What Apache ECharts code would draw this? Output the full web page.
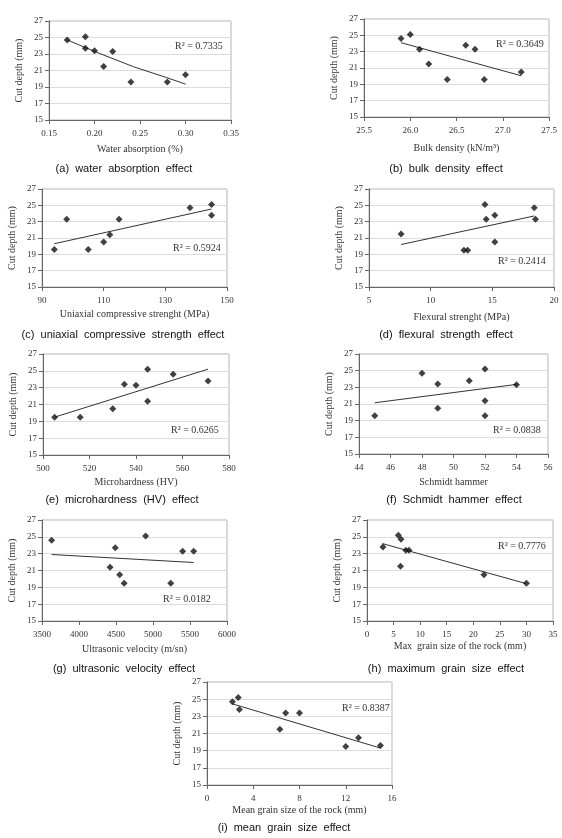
<!DOCTYPE html>
<html>
<head>
<meta charset="utf-8">
<script src="https://cdn.jsdelivr.net/npm/echarts@6/dist/echarts.min.js"></script>
<style>
  html, body { margin: 0; padding: 0; background: #fff; }
  #main { width: 562px; height: 838px; }
</style>
</head>
<body>
<div id="main"></div>
<script>
// y axis is the same for every panel
var yTicks = [15, 17, 19, 21, 23, 25, 27];

// (a) water absorption
var waterX = [0.17, 0.19, 0.19, 0.20, 0.21, 0.22, 0.24, 0.28, 0.30];
var waterY = [24.7, 25.1, 23.7, 23.4, 21.5, 23.3, 19.6, 19.6, 20.5];
var waterFit = [[0.17, 24.7], [0.206, 23.05], [0.243, 21.45], [0.279, 20.15], [0.30, 19.35]];
var waterTicks = [0.15, 0.20, 0.25, 0.30, 0.35];

// (b) bulk density
var densityX = [25.9, 26.0, 26.1, 26.2, 26.4, 26.6, 26.7, 26.8, 27.2];
var densityY = [24.6, 25.1, 23.3, 21.5, 19.6, 23.8, 23.3, 19.6, 20.5];
var densityFit = [[25.9, 24.1], [27.2, 20.05]];
var densityTicks = [25.5, 26.0, 26.5, 27.0, 27.5];

// (c) uniaxial compressive strength
var ucsX = [94, 98, 105, 110, 112, 115, 138, 145, 145];
var ucsY = [19.6, 23.3, 19.6, 20.5, 21.4, 23.3, 24.7, 25.1, 23.8];
var ucsFit = [[94, 20.3], [145, 24.55]];
var ucsTicks = [90, 110, 130, 150];

// (d) flexural strength
var flexX = [7.6, 12.7, 13.0, 14.4, 14.5, 15.2, 15.2, 18.4, 18.5];
var flexY = [21.5, 19.5, 19.5, 25.1, 23.3, 23.8, 20.5, 24.7, 23.3];
var flexFit = [[7.6, 20.2], [18.4, 23.7]];
var flexTicks = [5, 10, 15, 20];

// (e) microhardness
var hvX = [505, 516, 530, 535, 540, 545, 545, 556, 571];
var hvY = [19.5, 19.5, 20.5, 23.4, 23.3, 25.2, 21.4, 24.6, 23.8];
var hvFit = [[505, 19.5], [571, 25.2]];
var hvTicks = [500, 520, 540, 560, 580];

// (f) Schmidt hammer
var schmidtX = [45, 48, 49, 49, 51, 52, 52, 52, 54];
var schmidtY = [19.6, 24.7, 23.4, 20.5, 23.8, 25.2, 21.4, 19.6, 23.3];
var schmidtFit = [[45, 21.15], [54, 23.35]];
var schmidtTicks = [44, 46, 48, 50, 52, 54, 56];

// (g) ultrasonic velocity
var sonicX = [3630, 4420, 4490, 4550, 4610, 4900, 5240, 5400, 5550];
var sonicY = [24.6, 21.4, 23.7, 20.5, 19.5, 25.1, 19.5, 23.3, 23.3];
var sonicFit = [[3630, 22.9], [5550, 21.95]];
var sonicTicks = [3500, 4000, 4500, 5000, 5500, 6000];

// (h) max grain size
var maxGrainX = [3, 5.9, 6.4, 6.3, 7.3, 7.9, 22, 30];
var maxGrainY = [23.8, 25.2, 24.7, 21.5, 23.4, 23.4, 20.5, 19.5];
var maxGrainFit = [[2.9, 24.2], [29.9, 19.45]];
var maxGrainTicks = [0, 5, 10, 15, 20, 25, 30, 35];

// (i) mean grain size
var meanGrainX = [2.2, 2.7, 2.8, 6.3, 6.8, 8.0, 12.0, 13.1, 15.0];
var meanGrainY = [24.7, 25.2, 23.8, 21.5, 23.4, 23.4, 19.5, 20.5, 19.6];
var meanGrainFit = [[2.2, 24.45], [15.0, 19.3]];
var meanGrainTicks = [0, 4, 8, 12, 16];

var panels = [
  { x: waterX, y: waterY, fit: waterFit, ticks: waterTicks, dec: 2, xName: 'Water absorption (%)', r2: '0.7335', caption: '(a)  water  absorption  effect' },
  { x: densityX, y: densityY, fit: densityFit, ticks: densityTicks, dec: 1, xName: 'Bulk density (kN/m³)', r2: '0.3649', caption: '(b)  bulk  density  effect' },
  { x: ucsX, y: ucsY, fit: ucsFit, ticks: ucsTicks, dec: 0, xName: 'Uniaxial compressive strenght (MPa)', r2: '0.5924', caption: '(c)  uniaxial  compressive  strength  effect' },
  { x: flexX, y: flexY, fit: flexFit, ticks: flexTicks, dec: 0, xName: 'Flexural strenght (MPa)', r2: '0.2414', caption: '(d)  flexural  strength  effect' },
  { x: hvX, y: hvY, fit: hvFit, ticks: hvTicks, dec: 0, xName: 'Microhardness (HV)', r2: '0.6265', caption: '(e)  microhardness  (HV)  effect' },
  { x: schmidtX, y: schmidtY, fit: schmidtFit, ticks: schmidtTicks, dec: 0, xName: 'Schmidt hammer', r2: '0.0838', caption: '(f)  Schmidt  hammer  effect' },
  { x: sonicX, y: sonicY, fit: sonicFit, ticks: sonicTicks, dec: 0, xName: 'Ultrasonic velocity (m/sn)', r2: '0.0182', caption: '(g)  ultrasonic  velocity  effect' },
  { x: maxGrainX, y: maxGrainY, fit: maxGrainFit, ticks: maxGrainTicks, dec: 0, xName: 'Max  grain size of the rock (mm)', r2: '0.7776', caption: '(h)  maximum  grain  size  effect' },
  { x: meanGrainX, y: meanGrainY, fit: meanGrainFit, ticks: meanGrainTicks, dec: 0, xName: 'Mean grain size of the rock (mm)', r2: '0.8387', caption: '(i)  mean  grain  size  effect' }
];

// plot boxes and text spots, in pixels
var boxes = [
  { l: 49, t: 21, w: 182, h: 99, gap: 24, r2x: 175, r2y: 47, cx: 124, cy: 169 },
  { l: 364, t: 19, w: 185, h: 98, gap: 26, r2x: 496, r2y: 45, cx: 446, cy: 169 },
  { l: 42, t: 189, w: 185, h: 98, gap: 22, r2x: 173, r2y: 249, cx: 123, cy: 335 },
  { l: 369, t: 189, w: 185, h: 98, gap: 25, r2x: 498, r2y: 262, cx: 446, cy: 335 },
  { l: 43, t: 354, w: 186, h: 101, gap: 22, r2x: 171, r2y: 431, cx: 122, cy: 500 },
  { l: 359, t: 354, w: 189, h: 100, gap: 23, r2x: 493, r2y: 431, cx: 454, cy: 500 },
  { l: 42, t: 520, w: 185, h: 101, gap: 23, r2x: 163, r2y: 600, cx: 124, cy: 669 },
  { l: 367, t: 520, w: 186, h: 101, gap: 20, r2x: 498, r2y: 547, cx: 446, cy: 669 },
  { l: 207, t: 682, w: 185, h: 103, gap: 20, r2x: 342, r2y: 709, cx: 284, cy: 828 }
];

var serif = '"Liberation Serif", "DejaVu Serif", serif';
var textColor = '#333';

var option = {
  animation: false,
  backgroundColor: '#fff',
  grid: [], xAxis: [], yAxis: [], series: [], graphic: []
};

panels.forEach(function (p, i) {
  var b = boxes[i];
  option.grid.push({
    left: b.l, top: b.t, width: b.w, height: b.h,
    show: true, borderColor: '#b5b5b5', borderWidth: 1, backgroundColor: 'transparent'
  });
  option.xAxis.push({
    type: 'value', gridIndex: i,
    min: p.ticks[0], max: p.ticks[p.ticks.length - 1],
    name: p.xName, nameLocation: 'middle', nameGap: b.gap,
    nameTextStyle: { fontFamily: serif, fontSize: 10, color: textColor },
    axisLine: { show: true, onZero: false, lineStyle: { color: '#666', width: 1 } },
    axisTick: { show: true, length: 4, customValues: p.ticks, lineStyle: { color: '#666' } },
    axisLabel: {
      customValues: p.ticks, margin: 9,
      fontFamily: serif, fontSize: 9, color: textColor,
      formatter: (function (d) { return function (v) { return v.toFixed(d); }; })(p.dec)
    },
    splitLine: { show: false }
  });
  option.yAxis.push({
    type: 'value', gridIndex: i, min: 15, max: 27,
    name: 'Cut depth (mm)', nameLocation: 'middle', nameGap: 25,
    nameTextStyle: { fontFamily: serif, fontSize: 10, color: textColor },
    axisLine: { show: true, onZero: false, lineStyle: { color: '#666', width: 1 } },
    axisTick: { show: true, length: 4, customValues: yTicks, lineStyle: { color: '#666' } },
    axisLabel: { customValues: yTicks, margin: 6, fontFamily: serif, fontSize: 9, color: textColor },
    splitLine: { show: true, customValues: yTicks, lineStyle: { color: '#dcdcdc', width: 1 } }
  });
  option.series.push({
    type: 'line', xAxisIndex: i, yAxisIndex: i,
    data: p.fit, showSymbol: false, symbol: 'none', smooth: false,
    lineStyle: { color: '#333', width: 1 }, silent: true, z: 2
  });
  option.series.push({
    type: 'scatter', xAxisIndex: i, yAxisIndex: i,
    data: p.x.map(function (v, k) { return [v, p.y[k]]; }),
    symbol: 'diamond', symbolSize: 7,
    itemStyle: { color: '#111' }, z: 3
  });
  option.graphic.push({
    type: 'text', left: b.r2x, top: b.r2y - 6,
    style: { text: 'R² = ' + p.r2, fontFamily: serif, fontSize: 10, fill: textColor }
  });
  option.graphic.push({
    type: 'text', x: b.cx, y: b.cy,
    style: {
      text: p.caption, x: 0, y: 0, align: 'center', verticalAlign: 'middle',
      fontFamily: '"Liberation Sans", Arial, sans-serif', fontSize: 11, fill: '#111'
    }
  });
});

var myChart = echarts.init(document.getElementById('main'));
myChart.setOption(option);
</script>
</body>
</html>
